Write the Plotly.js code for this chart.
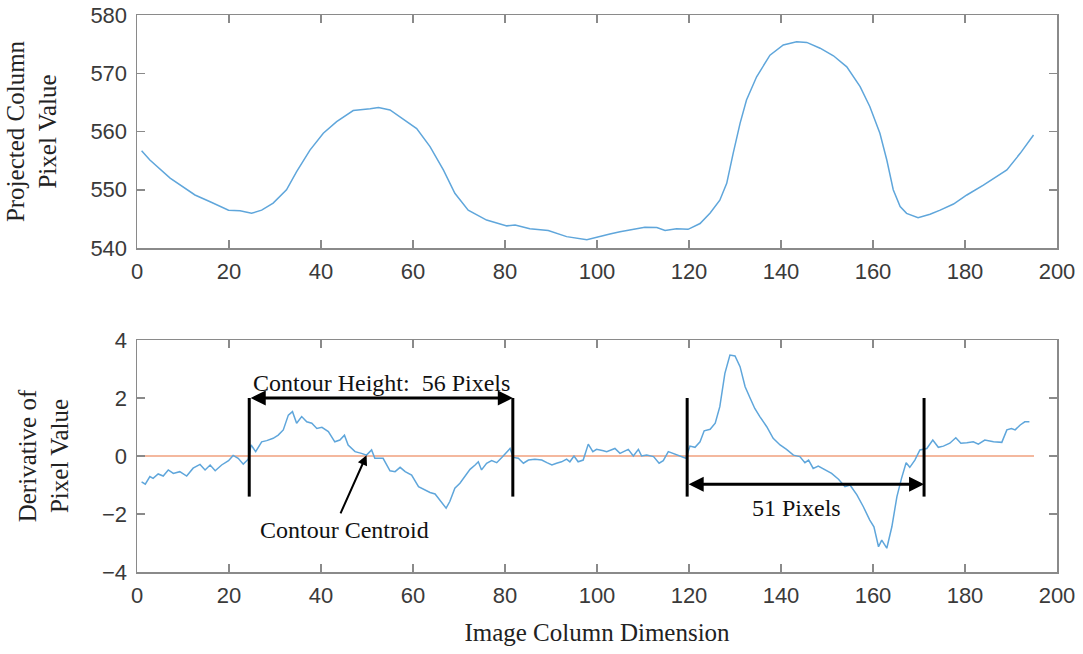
<!DOCTYPE html>
<html>
<head>
<meta charset="utf-8">
<script src="https://cdn.plot.ly/plotly-3.0.1.min.js"></script>
<style>html,body{margin:0;padding:0;background:#fff;}#chart{width:1083px;height:654px;}</style>
</head>
<body>
<div id="chart"></div>
<script>
// Top panel: projected column pixel value
const colX = [1.0,2.8,7.2,12.6,15.9,19.9,22.4,24.9,27.1,29.6,32.5,34.7,37.6,40.5,43.4,47.0,50.7,52.5,55.0,57.2,60.8,63.7,66.6,69.1,72.0,76.0,80.4,82.2,85.4,89.4,93.4,97.8,99.6,102.8,105.0,107.9,110.4,113.0,114.8,117.3,119.8,122.4,124.6,126.7,128.2,129.6,131.1,132.5,134.7,137.6,140.5,143.4,145.6,148.5,151.4,154.3,157.2,159.3,161.5,163.0,164.4,165.9,167.3,169.8,172.4,174.6,177.5,180.4,184.0,189.1,192.0,194.9];
const colVal = [556.7,555.1,552.0,549.1,547.95,546.5,546.4,545.95,546.5,547.7,550.0,553.1,556.8,559.7,561.7,563.6,563.9,564.1,563.7,562.5,560.5,557.4,553.4,549.4,546.5,544.8,543.8,543.95,543.3,543.0,541.95,541.4,541.8,542.4,542.8,543.2,543.55,543.5,543.0,543.3,543.2,544.2,546.0,548.2,551.1,556.25,561.4,565.4,569.4,573.1,574.85,575.4,575.3,574.3,573.0,571.1,567.7,564.3,559.7,555.1,550.0,547.1,545.95,545.2,545.8,546.5,547.55,549.1,550.8,553.4,556.25,559.4];

// Bottom panel: derivative of pixel value
const derX = [1.0,1.8,2.8,3.5,4.6,5.7,6.8,7.9,9.3,10.8,12.2,13.7,14.8,15.9,17.0,18.4,19.9,20.9,22.0,23.1,24.2,24.8,25.8,27.1,28.2,29.6,30.7,31.8,32.9,33.8,34.7,35.8,36.9,38.0,39.1,40.2,41.6,43.0,44.1,45.1,45.9,47.4,48.8,49.9,51.0,51.7,53.5,55.0,56.1,57.2,58.3,59.7,61.2,62.6,63.7,64.8,65.9,67.2,68.0,69.1,70.2,71.3,72.4,73.5,74.2,74.9,76.0,77.1,78.2,79.3,80.4,81.1,81.8,82.9,84.0,85.1,86.5,88.0,89.1,90.2,91.2,92.3,93.4,94.1,95.0,95.9,97.0,98.1,99.1,99.9,101.4,102.1,103.9,105.0,106.8,107.9,109.0,109.7,110.8,112.3,113.5,114.4,115.5,116.6,118.0,119.3,120.2,121.3,122.4,123.3,124.6,125.7,126.7,127.8,128.9,130.0,131.1,132.2,133.3,134.3,135.4,136.9,138.3,139.8,141.2,142.7,144.1,145.2,146.0,147.0,148.1,149.6,151.0,152.5,153.9,155.0,156.5,157.9,159.3,160.2,161.2,161.9,163.0,164.1,165.2,166.2,167.2,168.0,169.1,170.2,171.7,173.0,174.2,175.3,176.7,178.0,179.1,180.4,181.8,182.9,184.3,186.2,188.0,189.1,190.1,190.9,192.0,193.0,194.0];
const derVal = [-0.89,-0.97,-0.71,-0.77,-0.62,-0.69,-0.48,-0.60,-0.54,-0.69,-0.42,-0.29,-0.48,-0.31,-0.51,-0.31,-0.16,0.02,-0.08,-0.28,-0.11,0.38,0.15,0.49,0.53,0.61,0.72,0.90,1.41,1.53,1.13,1.36,1.18,1.13,0.95,0.99,0.84,0.49,0.55,0.72,0.38,0.15,0.09,0.03,0.21,-0.08,-0.08,-0.51,-0.54,-0.39,-0.54,-0.66,-1.06,-1.17,-1.26,-1.31,-1.52,-1.80,-1.57,-1.11,-0.94,-0.71,-0.46,-0.31,-0.20,-0.48,-0.25,-0.16,-0.23,-0.05,0.15,0.26,-0.05,-0.08,-0.25,-0.14,-0.11,-0.14,-0.23,-0.31,-0.25,-0.20,-0.11,-0.20,0.0,-0.20,-0.14,0.41,0.15,0.23,0.18,0.15,0.26,0.09,0.23,0.0,0.23,0.0,0.03,-0.02,-0.25,-0.16,0.15,0.09,0.0,-0.08,0.34,0.30,0.49,0.87,0.92,1.13,1.70,2.85,3.48,3.45,3.08,2.39,1.99,1.64,1.36,1.01,0.61,0.38,0.23,0.03,-0.02,-0.23,-0.14,-0.43,-0.35,-0.48,-0.60,-0.80,-1.06,-1.0,-1.34,-1.75,-2.21,-2.44,-3.13,-2.90,-3.18,-2.44,-1.40,-0.77,-0.23,-0.39,-0.14,0.21,0.26,0.55,0.30,0.34,0.44,0.63,0.44,0.46,0.49,0.41,0.55,0.49,0.47,0.90,0.95,0.90,1.07,1.18,1.18];

// Zero reference line
const zeroX = [1, 195];
const zeroVal = [0, 0];

// Annotation markers (column positions)
const leftContour = [24.4, 81.7];
const rightContour = [119.6, 171.1];

const xTicks = [0,20,40,60,80,100,120,140,160,180,200];
const yTopTicks = [540,550,560,570,580];
const yBotTicks = [-4,-2,0,2,4];

const blue = '#5fa6db';
const orange = '#f0a07e';
const axisGray = '#8a8a8a';
const tickFont = {family: 'Liberation Sans, Arial, sans-serif', size: 22, color: '#3a3a3a'};
const serif = 'Liberation Serif, Times New Roman, serif';

const traces = [
  {x: colX, y: colVal, type: 'scatter', mode: 'lines', line: {color: blue, width: 1.5}, xaxis: 'x', yaxis: 'y', showlegend: false},
  {x: zeroX, y: zeroVal, type: 'scatter', mode: 'lines', line: {color: orange, width: 1.5}, xaxis: 'x2', yaxis: 'y2', showlegend: false},
  {x: derX, y: derVal, type: 'scatter', mode: 'lines', line: {color: blue, width: 1.5}, xaxis: 'x2', yaxis: 'y2', showlegend: false}
];

const axBase = {
  showline: true, linecolor: axisGray, linewidth: 1.5, mirror: 'ticks',
  ticks: 'inside', ticklen: 8, tickwidth: 1.5, tickcolor: axisGray,
  showgrid: false, zeroline: false, tickfont: tickFont, automargin: false
};

const H = 654;
const layout = {
  width: 1083, height: 654,
  margin: {l: 137, r: 26, t: 0, b: 0},
  paper_bgcolor: '#fff', plot_bgcolor: '#fff',
  showlegend: false,
  xaxis: Object.assign({}, axBase, {domain: [0,1], range: [0,200], tickvals: xTicks, anchor: 'y', ticklabelstandoff: 3}),
  yaxis: Object.assign({}, axBase, {domain: [1-248/H, 1-15/H], range: [540,580], tickvals: yTopTicks, anchor: 'x', ticklabelstandoff: 4,
    title: {text: 'Projected Column<br>Pixel Value', font: {family: serif, size: 25, color: '#222'}, standoff: 26}}),
  xaxis2: Object.assign({}, axBase, {domain: [0,1], range: [0,200], tickvals: xTicks, anchor: 'y2', ticklabelstandoff: 3,
    title: {text: 'Image Column Dimension', font: {family: serif, size: 25, color: '#222'}, standoff: 16}}),
  yaxis2: Object.assign({}, axBase, {domain: [1-572/H, 1-340/H], range: [-4,4], tickvals: yBotTicks, anchor: 'x2', ticklabelstandoff: 4,
    title: {text: 'Derivative of<br>Pixel Value', font: {family: serif, size: 25, color: '#222'}, standoff: 26}}),
  shapes: [
    {type: 'line', xref: 'x2', yref: 'y2', x0: leftContour[0], x1: leftContour[0], y0: -1.4, y1: 2.0, line: {color: '#000', width: 3}},
    {type: 'line', xref: 'x2', yref: 'y2', x0: leftContour[1], x1: leftContour[1], y0: -1.4, y1: 2.0, line: {color: '#000', width: 3}},
    {type: 'line', xref: 'x2', yref: 'y2', x0: rightContour[0], x1: rightContour[0], y0: -1.4, y1: 2.0, line: {color: '#000', width: 3}},
    {type: 'line', xref: 'x2', yref: 'y2', x0: rightContour[1], x1: rightContour[1], y0: -1.4, y1: 2.0, line: {color: '#000', width: 3}}
  ],
  annotations: [
    {xref: 'x2', yref: 'y2', axref: 'x2', ayref: 'y2', x: leftContour[1], y: 2.0, ax: leftContour[0], ay: 2.0,
     showarrow: true, arrowhead: 2, startarrowhead: 2, arrowside: 'end+start', arrowsize: 1, startarrowsize: 1, arrowwidth: 3, arrowcolor: '#000', standoff: 0, startstandoff: 0, text: ''},
    {xref: 'x2', yref: 'y2', axref: 'x2', ayref: 'y2', x: rightContour[1], y: -0.97, ax: rightContour[0], ay: -0.97,
     showarrow: true, arrowhead: 2, startarrowhead: 2, arrowside: 'end+start', arrowsize: 1, startarrowsize: 1, arrowwidth: 3, arrowcolor: '#000', standoff: 0, startstandoff: 0, text: ''},
    {xref: 'x2', yref: 'y2', x: 53.2, y: 2.5, text: 'Contour Height:  56 Pixels', showarrow: false,
     font: {family: serif, size: 24, color: '#111'}},
    {xref: 'x2', yref: 'y2', x: 143.4, y: -1.78, text: '51 Pixels', showarrow: false,
     font: {family: serif, size: 24, color: '#111'}},
    {xref: 'x2', yref: 'y2', x: 45, y: -2.55, text: 'Contour Centroid', showarrow: false,
     font: {family: serif, size: 24, color: '#111'}},
    {xref: 'x2', yref: 'y2', axref: 'x2', ayref: 'y2', x: 49.9, y: 0.03, ax: 44.1, ay: -2.03, text: '',
     showarrow: true, arrowhead: 2, arrowsize: 1, arrowwidth: 2, arrowcolor: '#000', standoff: 0}
  ]
};

Plotly.newPlot('chart', traces, layout, {staticPlot: true, displayModeBar: false});
</script>
</body>
</html>
